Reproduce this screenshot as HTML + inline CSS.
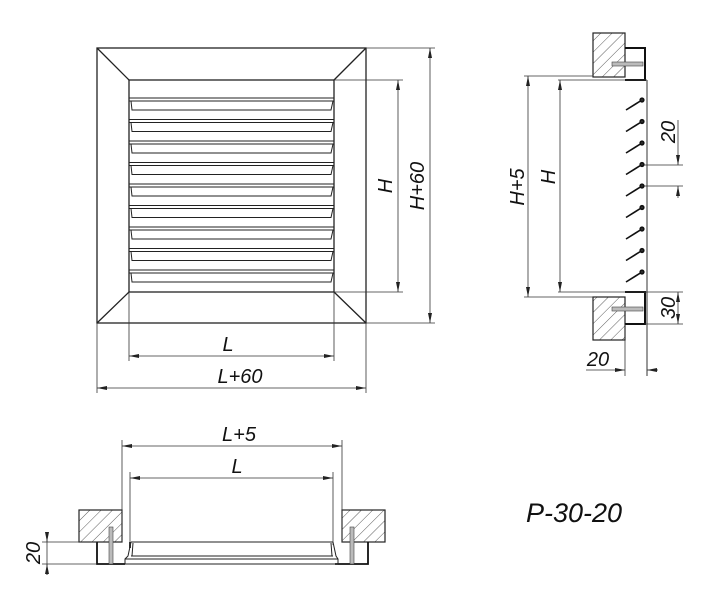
<!DOCTYPE html>
<html><head><meta charset="utf-8"><style>
html,body{margin:0;padding:0;background:#fff;width:704px;height:594px;overflow:hidden}
text{font-family:"Liberation Sans",sans-serif;font-style:italic;fill:#111}
</style></head><body>
<svg width="704" height="594" viewBox="0 0 704 594" xmlns="http://www.w3.org/2000/svg">
<defs>
<marker id="a" viewBox="0 0 10 4" refX="10" refY="2" markerWidth="10" markerHeight="4" orient="auto-start-reverse" markerUnits="userSpaceOnUse"><path d="M0,0 L10,2 L0,4 z" fill="#222"/></marker>
<pattern id="h" patternUnits="userSpaceOnUse" width="8" height="8" patternTransform="rotate(45)"><line x1="0" y1="0" x2="0" y2="8" stroke="#333" stroke-width="0.8"/></pattern>
</defs>
<g fill="none" stroke="#222" stroke-width="1.3">
<rect x="97" y="48" width="269" height="275"/>
<rect x="129" y="80" width="205" height="212"/>
<line x1="97" y1="48" x2="129" y2="80"/><line x1="366" y1="48" x2="334" y2="80"/>
<line x1="97" y1="323" x2="129" y2="292"/><line x1="366" y1="323" x2="334" y2="292"/>
</g>
<g fill="none" stroke="#222" stroke-width="1">
<path d="M129,98 H334 M129,101 H334 M131,101 L132,110 H331 L333,101"/>
<path d="M129,119.5 H334 M129,122.5 H334 M131,122.5 L132,131.5 H331 L333,122.5"/>
<path d="M129,141 H334 M129,144 H334 M131,144 L132,153 H331 L333,144"/>
<path d="M129,162.5 H334 M129,165.5 H334 M131,165.5 L132,174.5 H331 L333,165.5"/>
<path d="M129,184 H334 M129,187 H334 M131,187 L132,196 H331 L333,187"/>
<path d="M129,205.5 H334 M129,208.5 H334 M131,208.5 L132,217.5 H331 L333,208.5"/>
<path d="M129,227 H334 M129,230 H334 M131,230 L132,239 H331 L333,230"/>
<path d="M129,248.5 H334 M129,251.5 H334 M131,251.5 L132,260.5 H331 L333,251.5"/>
<path d="M129,270 H334 M129,273 H334 M131,273 L132,282 H331 L333,273"/>
</g>
<g fill="none" stroke="#333" stroke-width="0.8">
<line x1="334" y1="80" x2="403" y2="80"/><line x1="334" y1="292" x2="403" y2="292"/>
<line x1="398" y1="80" x2="398" y2="292" marker-start="url(#a)" marker-end="url(#a)"/>
<line x1="366" y1="48" x2="435" y2="48"/><line x1="366" y1="323" x2="435" y2="323"/>
<line x1="430" y1="48" x2="430" y2="323" marker-start="url(#a)" marker-end="url(#a)"/>
<line x1="129" y1="292" x2="129" y2="361"/><line x1="334" y1="292" x2="334" y2="361"/>
<line x1="129" y1="356" x2="334" y2="356" marker-start="url(#a)" marker-end="url(#a)"/>
<line x1="97" y1="323" x2="97" y2="393"/><line x1="366" y1="323" x2="366" y2="393"/>
<line x1="97" y1="388" x2="366" y2="388" marker-start="url(#a)" marker-end="url(#a)"/>
</g>
<text x="228" y="351" font-size="20" text-anchor="middle">L</text>
<text x="240" y="383" font-size="20" text-anchor="middle">L+60</text>
<text transform="translate(392,186) rotate(-90)" font-size="20" text-anchor="middle">H</text>
<text transform="translate(424,186) rotate(-90)" font-size="20" text-anchor="middle">H+60</text>

<rect x="593" y="33" width="32" height="44" fill="url(#h)" stroke="#222" stroke-width="1.2"/>
<rect x="593" y="297" width="32" height="43" fill="url(#h)" stroke="#222" stroke-width="1.2"/>
<path d="M625,48 H645 V80 H625" fill="none" stroke="#111" stroke-width="2"/>
<path d="M625,324 H645 V292 H625" fill="none" stroke="#111" stroke-width="2"/>
<rect x="612" y="62" width="31" height="4" fill="#bbb" stroke="#444" stroke-width="0.6"/>
<rect x="612" y="307" width="31" height="4" fill="#bbb" stroke="#444" stroke-width="0.6"/>
<g stroke="#333" stroke-width="0.8" fill="none">
<line x1="524" y1="76" x2="593" y2="76"/>
<line x1="558" y1="80" x2="647" y2="80"/>
<line x1="524" y1="297" x2="593" y2="297"/>
<line x1="558" y1="292" x2="647" y2="292"/>
<line x1="647" y1="80" x2="647" y2="376" stroke-width="1"/>
<line x1="528" y1="76" x2="528" y2="297" marker-start="url(#a)" marker-end="url(#a)"/>
<line x1="560" y1="80" x2="560" y2="292" marker-start="url(#a)" marker-end="url(#a)"/>
<line x1="642" y1="165" x2="683" y2="165"/><line x1="642" y1="186" x2="683" y2="186"/>
<line x1="678" y1="120" x2="678" y2="165" marker-end="url(#a)"/>
<line x1="678" y1="186" x2="678" y2="198" marker-start="url(#a)"/>
<line x1="645" y1="292" x2="683" y2="292"/><line x1="645" y1="324" x2="683" y2="324"/>
<line x1="678" y1="292" x2="678" y2="324" marker-start="url(#a)" marker-end="url(#a)"/>
<line x1="625" y1="324" x2="625" y2="376"/>
<line x1="586" y1="370" x2="625" y2="370" marker-end="url(#a)"/>
<line x1="647" y1="370" x2="658" y2="370" marker-start="url(#a)"/>
</g>
<g stroke="#111" stroke-width="1.6" fill="#333">
<line x1="642" y1="100" x2="626" y2="110"/><circle cx="642" cy="100" r="1.8"/>
<line x1="642" y1="121.5" x2="626" y2="131.5"/><circle cx="642" cy="121.5" r="1.8"/>
<line x1="642" y1="143" x2="626" y2="153"/><circle cx="642" cy="143" r="1.8"/>
<line x1="642" y1="164.5" x2="626" y2="174.5"/><circle cx="642" cy="164.5" r="1.8"/>
<line x1="642" y1="186" x2="626" y2="196"/><circle cx="642" cy="186" r="1.8"/>
<line x1="642" y1="207.5" x2="626" y2="217.5"/><circle cx="642" cy="207.5" r="1.8"/>
<line x1="642" y1="229" x2="626" y2="239"/><circle cx="642" cy="229" r="1.8"/>
<line x1="642" y1="250.5" x2="626" y2="260.5"/><circle cx="642" cy="250.5" r="1.8"/>
<line x1="642" y1="272" x2="626" y2="282"/><circle cx="642" cy="272" r="1.8"/>
</g>
<text transform="translate(524,187) rotate(-90)" font-size="20" text-anchor="middle">H+5</text>
<text transform="translate(555,177) rotate(-90)" font-size="20" text-anchor="middle">H</text>
<text transform="translate(675,132) rotate(-90)" font-size="20" text-anchor="middle">20</text>
<text transform="translate(675,308) rotate(-90)" font-size="20" text-anchor="middle">30</text>
<text x="598" y="366" font-size="20" text-anchor="middle">20</text>

<rect x="79" y="510" width="43" height="32" fill="url(#h)" stroke="#222" stroke-width="1.2"/>
<rect x="342" y="510" width="43" height="32" fill="url(#h)" stroke="#222" stroke-width="1.2"/>
<path d="M97,542 V564 H125 M130,542 V548" fill="none" stroke="#111" stroke-width="1.8"/>
<path d="M368,542 V564 H335" fill="none" stroke="#111" stroke-width="1.8"/>
<rect x="109" y="527" width="4" height="37" fill="#bbb" stroke="#444" stroke-width="0.6"/>
<rect x="350" y="527" width="4" height="37" fill="#bbb" stroke="#444" stroke-width="0.6"/>
<g fill="none" stroke="#222" stroke-width="1">
<path d="M131,542 H333 M131,556 H333 M125,559 H338 M125,564 H338"/>
<path d="M131,542 L128,556 L125,559 V564 M333,542 L336,556 L338,559 V564"/>
<path d="M133,543 L132,556 M331,543 L332,556"/>
</g>
<g stroke="#333" stroke-width="0.8" fill="none">
<line x1="122" y1="440" x2="122" y2="542"/><line x1="342" y1="440" x2="342" y2="542"/>
<line x1="122" y1="446" x2="342" y2="446" marker-start="url(#a)" marker-end="url(#a)"/>
<line x1="130" y1="472" x2="130" y2="545"/><line x1="333" y1="472" x2="333" y2="545"/>
<line x1="130" y1="478" x2="333" y2="478" marker-start="url(#a)" marker-end="url(#a)"/>
<line x1="42" y1="542" x2="97" y2="542"/><line x1="42" y1="564" x2="97" y2="564"/>
<line x1="47" y1="532" x2="47" y2="575"/>
<line x1="47" y1="532" x2="47" y2="542" marker-end="url(#a)"/>
<line x1="47" y1="575" x2="47" y2="564" marker-end="url(#a)"/>
</g>
<text x="239" y="441" font-size="20" text-anchor="middle">L+5</text>
<text x="237" y="473" font-size="20" text-anchor="middle">L</text>
<text transform="translate(40,553) rotate(-90)" font-size="20" text-anchor="middle">20</text>

<text x="574" y="522" font-size="27" text-anchor="middle">P-30-20</text>
</svg>
</body></html>
